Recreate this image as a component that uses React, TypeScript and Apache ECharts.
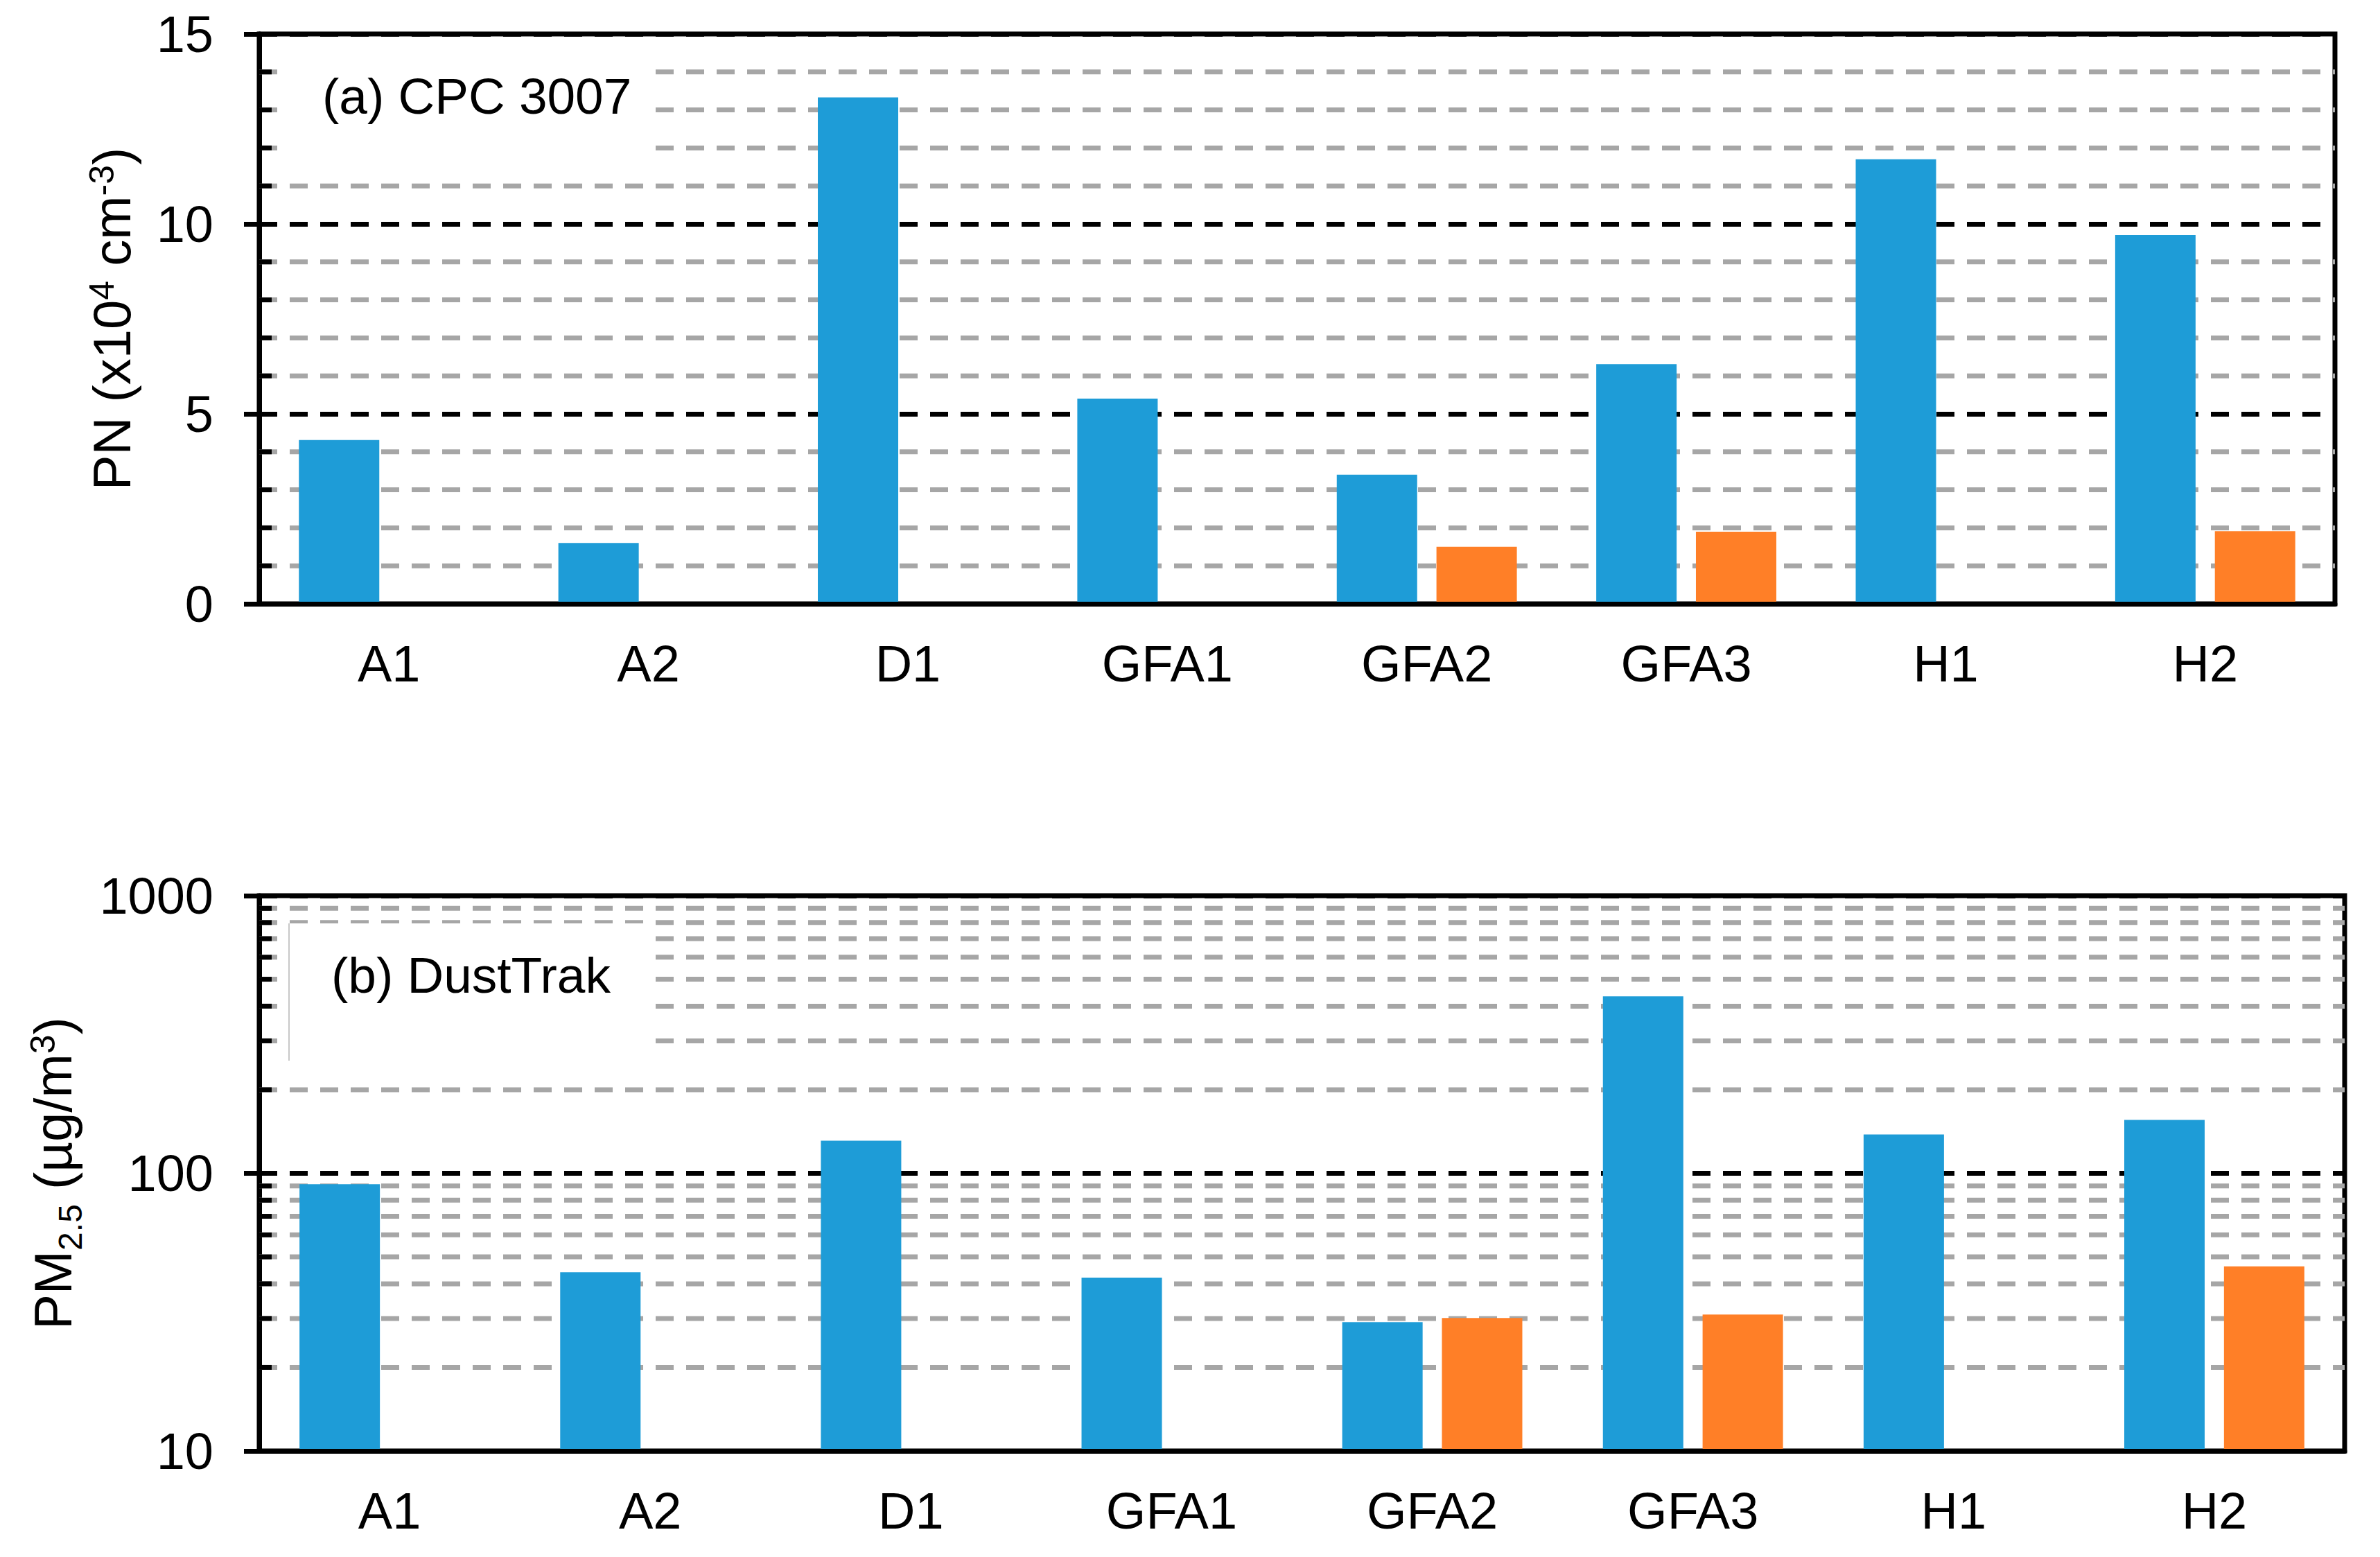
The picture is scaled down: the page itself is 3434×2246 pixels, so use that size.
import React, { useEffect, useRef } from 'react';
import * as echarts from 'echarts';

const categories = ['A1', 'A2', 'D1', 'GFA1', 'GFA2', 'GFA3', 'H1', 'H2'];
const pnBlue = [4.31, 1.6, 13.33, 5.4, 3.4, 6.31, 11.7, 9.71];
const pnOrange = [null, null, null, null, 1.5, 1.9, null, 1.91];
const pmBlue = [91.4, 44.0, 131, 42.1, 29.1, 434, 138, 155.7];
const pmOrange = [null, null, null, null, 30.1, 31.0, null, 46.2];
const pnMinor = [1, 2, 3, 4, 6, 7, 8, 9, 11, 12, 13, 14];
const pmMinor = [20, 30, 40, 50, 60, 70, 80, 90, 200, 300, 400, 500, 600, 700, 800, 900];

const FONT = '"Liberation Sans", Arial, sans-serif';
const BLUE = '#1E9CD7';
const ORANGE = '#FF7F27';
const GRAY = '#A6A6A6';
const DASH = [26, 18];

function minorRender(params: any, api: any) {
  const v = api.value(1);
  const pt = api.coord([0, v]);
  const cs = params.coordSys;
  return {
    type: 'group',
    children: [
      {
        type: 'line',
        shape: { x1: cs.x, y1: pt[1], x2: cs.x + cs.width, y2: pt[1] },
        style: { stroke: GRAY, lineWidth: 7, lineDash: DASH },
      },
      {
        type: 'line',
        shape: { x1: cs.x, y1: pt[1], x2: cs.x + 18, y2: pt[1] },
        style: { stroke: '#000', lineWidth: 7 },
      },
    ],
  };
}

export default function App() {
  const ref = useRef<HTMLDivElement>(null);
  useEffect(() => {
    if (!ref.current) return;
    const chart = echarts.init(ref.current, undefined, { renderer: 'svg' });
    const axisLabel = { color: '#000', fontSize: 74, fontFamily: FONT };
    const xAxisCommon = {
      type: 'category',
      data: categories,
      z: 5,
      axisLine: { show: true, lineStyle: { color: '#000', width: 7 } },
      axisTick: { show: false },
      axisLabel: { ...axisLabel, margin: 49 },
      splitLine: { show: false },
    };
    const nameStyleBase = {
      color: '#000',
      fontSize: 76,
      fontFamily: FONT,
      lineHeight: 100,
      rich: {
        sup: { fontSize: 50, fontFamily: FONT, color: '#000', padding: [0, 0, 28, 0], lineHeight: 50 },
        sub: { fontSize: 48, fontFamily: FONT, color: '#000', padding: [50, 0, 0, 0], lineHeight: 48 },
      },
    };
    const option: any = {
      animation: false,
      backgroundColor: '#fff',
      grid: [
        { left: 374, top: 49, width: 2995, height: 822, show: true, borderColor: '#000', borderWidth: 7, backgroundColor: 'transparent' },
        { left: 374, top: 1292, width: 3009, height: 801, show: true, borderColor: '#000', borderWidth: 7, backgroundColor: 'transparent' },
      ],
      xAxis: [
        { ...xAxisCommon, gridIndex: 0 },
        { ...xAxisCommon, gridIndex: 1 },
      ],
      yAxis: [
        {
          type: 'value',
          gridIndex: 0,
          min: 0,
          max: 15,
          interval: 5,
          name: 'PN (x10{sup|4} cm{sup|-3})',
          nameLocation: 'middle',
          nameRotate: 90,
          nameGap: 163,
          nameTextStyle: nameStyleBase,
          axisLine: { show: true, lineStyle: { color: '#000', width: 7 } },
          axisTick: { show: true, length: 22, lineStyle: { color: '#000', width: 7 } },
          axisLabel: { ...axisLabel, margin: 66 },
          splitLine: { show: true, lineStyle: { color: '#000', width: 7, type: DASH } },
        },
        {
          type: 'log',
          logBase: 10,
          gridIndex: 1,
          min: 10,
          max: 1000,
          name: 'PM{sub|2.5} (µg/m{sup|3})',
          nameLocation: 'middle',
          nameRotate: 90,
          nameGap: 248,
          nameTextStyle: nameStyleBase,
          axisLine: { show: true, lineStyle: { color: '#000', width: 7 } },
          axisTick: { show: true, length: 22, lineStyle: { color: '#000', width: 7 } },
          axisLabel: { ...axisLabel, margin: 66, formatter: (v: number) => String(Math.round(v)) },
          splitLine: { show: true, lineStyle: { color: '#000', width: 7, type: DASH } },
        },
      ],
      series: [
        {
          type: 'custom',
          xAxisIndex: 0,
          yAxisIndex: 0,
          z: 1,
          silent: true,
          renderItem: minorRender,
          encode: { x: 0, y: 1 },
          data: pnMinor.map((v) => [0, v]),
        },
        {
          type: 'custom',
          xAxisIndex: 1,
          yAxisIndex: 1,
          z: 1,
          silent: true,
          renderItem: minorRender,
          encode: { x: 0, y: 1 },
          data: pmMinor.map((v) => [0, v]),
        },
        { type: 'bar', xAxisIndex: 0, yAxisIndex: 0, z: 3, data: pnBlue, barWidth: 116, barGap: '24%', itemStyle: { color: BLUE } },
        { type: 'bar', xAxisIndex: 0, yAxisIndex: 0, z: 3, data: pnOrange, barWidth: 116, barGap: '24%', itemStyle: { color: ORANGE } },
        { type: 'bar', xAxisIndex: 1, yAxisIndex: 1, z: 3, data: pmBlue, barWidth: 116, barGap: '24%', itemStyle: { color: BLUE } },
        { type: 'bar', xAxisIndex: 1, yAxisIndex: 1, z: 3, data: pmOrange, barWidth: 116, barGap: '24%', itemStyle: { color: ORANGE } },
      ],
      graphic: [
        { type: 'rect', z: 2, silent: true, shape: { x: 417, y: 75, width: 524, height: 165 }, style: { fill: '#fff' } },
        { type: 'rect', z: 2, silent: true, shape: { x: 417, y: 1332, width: 524, height: 198 }, style: { fill: '#fff' } },
        { type: 'line', z: 2, silent: true, shape: { x1: 417, y1: 1332, x2: 417, y2: 1530 }, style: { stroke: '#C8C8C8', lineWidth: 2 } },
        {
          type: 'text', z: 10, x: 465, y: 138,
          style: { text: '(a) CPC 3007', fill: '#000', fontSize: 73, fontFamily: FONT, verticalAlign: 'middle', align: 'left' },
        },
        {
          type: 'text', z: 10, x: 478, y: 1406,
          style: { text: '(b) DustTrak', fill: '#000', fontSize: 73, fontFamily: FONT, verticalAlign: 'middle', align: 'left' },
        },
      ],
    };
    chart.setOption(option);
    return () => chart.dispose();
  }, []);
  return <div ref={ref} style={{ position: 'absolute', left: 0, top: 0, width: 3434, height: 2246 }} />;
}
